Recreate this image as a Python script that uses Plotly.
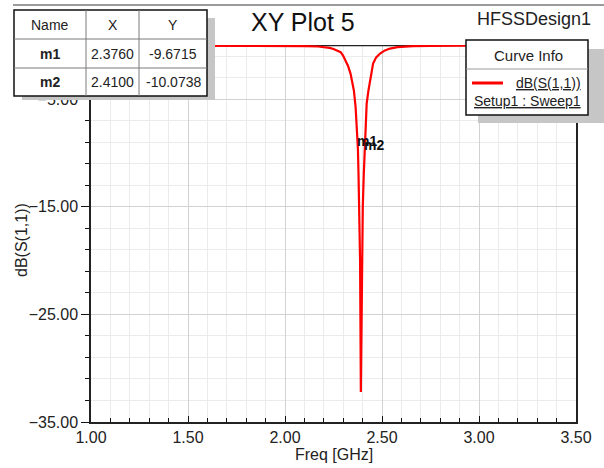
import plotly.graph_objects as go

# ---------------- data ----------------
freq_ghz = [1.00, 1.50, 1.90, 2.00, 2.10, 2.17, 2.20, 2.23, 2.25, 2.27,
            2.287, 2.300, 2.312, 2.325, 2.338, 2.347, 2.355, 2.364, 2.368, 2.372,
            2.376, 2.379, 2.383, 2.387, 2.391, 2.396, 2.401, 2.406, 2.410, 2.414,
            2.421, 2.430, 2.438, 2.446, 2.454, 2.470, 2.490, 2.515, 2.541, 2.580,
            2.620, 2.660, 2.750, 2.900, 3.200, 3.500]
s11_db = [0.00, 0.00, 0.00, -0.03, -0.05, -0.09, -0.14, -0.22, -0.32, -0.45,
          -0.62, -0.95, -1.39, -1.90, -2.63, -3.30, -4.18, -5.73, -6.80, -8.17,
          -9.67, -12.0, -16.0, -20.0, -32.2, -20.0, -15.0, -12.0, -10.07, -8.5,
          -5.4, -4.2, -3.25, -2.4, -1.67, -1.10, -0.74, -0.45, -0.28, -0.15,
          -0.10, -0.06, -0.04, 0.00, 0.00, 0.00]

marker_names = ["m1", "m2"]
marker_x = [2.3760, 2.4100]
marker_y = [-9.6715, -10.0738]
marker_x_text = ["2.3760", "2.4100"]
marker_y_text = ["-9.6715", "-10.0738"]
table_headers = ["Name", "X", "Y"]

x_tick_vals = [1.0, 1.5, 2.0, 2.5, 3.0, 3.5]
y_tick_vals = [-35, -25, -15, -5]

title_text = "XY Plot 5"
design_text = "HFSSDesign1"
x_title = "Freq [GHz]"
y_title = "dB(S(1,1))"
legend_title = "Curve Info"
legend_curve = "dB(S(1,1))"
legend_setup = "Setup1 : Sweep1"

# ---------------- geometry ----------------
W, H = 604, 468
L, R, T, B = 91, 28, 45, 46
PW = W - L - R
PH = H - T - B
FONT = "Liberation Sans, Arial, sans-serif"
Y_TOP = 0.05


def px(x):
    return (x - L) / PW


def py(y):
    return (H - B - y) / PH


fig = go.Figure()
fig.add_trace(go.Scatter(
    x=freq_ghz, y=s11_db, mode="lines",
    line=dict(color="#ff0000", width=2.2),
    showlegend=False, hoverinfo="skip",
))

shapes = []
annotations = []

# plot frame top edge (drawn beneath the curve)
shapes.append(dict(type="line", xref="x", yref="y",
                   x0=1.0, x1=3.5, y0=0, y1=0,
                   line=dict(color="#222", width=1.5), layer="between"))

# window top line
shapes.append(dict(type="line", xref="paper", yref="paper",
                   x0=px(13), x1=px(604), y0=py(5), y1=py(5),
                   line=dict(color="#9a9a9a", width=2), layer="above"))

# ---- marker table ----
tx0, tx1, ty0, ty1 = 14, 207, 10, 96
col_edges = [14, 86, 139, 207]
row_edges = [10, 39, 68, 96]
shapes.append(dict(type="rect", xref="paper", yref="paper",
                   x0=px(tx0 + 8), x1=px(tx1 + 8), y0=py(ty0 + 8), y1=py(ty1 + 4),
                   fillcolor="#c6c6c6", line=dict(width=0), layer="above"))
shapes.append(dict(type="rect", xref="paper", yref="paper",
                   x0=px(tx0), x1=px(tx1), y0=py(ty0), y1=py(ty1),
                   fillcolor="white", line=dict(color="#111", width=1.5), layer="above"))
for cx in col_edges[1:-1]:
    shapes.append(dict(type="line", xref="paper", yref="paper",
                       x0=px(cx), x1=px(cx), y0=py(ty0), y1=py(ty1),
                       line=dict(color="#7a7a7a", width=1), layer="above"))
for ry in row_edges[1:-1]:
    shapes.append(dict(type="line", xref="paper", yref="paper",
                       x0=px(tx0), x1=px(tx1), y0=py(ry), y1=py(ry),
                       line=dict(color="#7a7a7a", width=1), layer="above"))

rows = [table_headers] + [[n, xv, yv] for n, xv, yv in zip(marker_names, marker_x_text, marker_y_text)]
for ri, row in enumerate(rows):
    cy = (row_edges[ri] + row_edges[ri + 1]) / 2
    for ci, txt in enumerate(row):
        cx = (col_edges[ci] + col_edges[ci + 1]) / 2
        label = f"<b>{txt}</b>" if (ri > 0 and ci == 0) else txt
        annotations.append(dict(xref="paper", yref="paper", x=px(cx), y=py(cy),
                                text=label, showarrow=False, xanchor="center", yanchor="middle",
                                font=dict(family=FONT, size=14, color="#222")))

# ---- curve info box ----
lx0, lx1, ly0, ly1 = 466, 588, 40, 115
shapes.append(dict(type="rect", xref="paper", yref="paper",
                   x0=px(lx0 + 12), x1=px(lx1 + 16), y0=py(ly0 + 9), y1=py(ly1 + 8),
                   fillcolor="#c6c6c6", line=dict(width=0), layer="above"))
shapes.append(dict(type="rect", xref="paper", yref="paper",
                   x0=px(lx0), x1=px(lx1), y0=py(ly0), y1=py(ly1),
                   fillcolor="white", line=dict(color="#111", width=1.5), layer="above"))
shapes.append(dict(type="line", xref="paper", yref="paper",
                   x0=px(lx0), x1=px(lx1), y0=py(69), y1=py(69),
                   line=dict(color="#9a9a9a", width=1), layer="above"))
shapes.append(dict(type="line", xref="paper", yref="paper",
                   x0=px(472), x1=px(503), y0=py(83), y1=py(83),
                   line=dict(color="#ff0000", width=3), layer="above"))
annotations.append(dict(xref="paper", yref="paper", x=px(528), y=py(55),
                        text=legend_title, showarrow=False, xanchor="center", yanchor="middle",
                        font=dict(family=FONT, size=15, color="#222")))
annotations.append(dict(xref="paper", yref="paper", x=px(583), y=py(83),
                        text=legend_curve, showarrow=False, xanchor="right", yanchor="middle",
                        font=dict(family=FONT, size=14, color="#222", lineposition="under")))
annotations.append(dict(xref="paper", yref="paper", x=px(583), y=py(101),
                        text=legend_setup, showarrow=False, xanchor="right", yanchor="middle",
                        font=dict(family=FONT, size=14, color="#222", lineposition="under")))

# ---- titles ----
annotations.append(dict(xref="paper", yref="paper", x=px(303), y=py(22),
                        text=title_text, showarrow=False, xanchor="center", yanchor="middle",
                        font=dict(family=FONT, size=25, color="#111")))
annotations.append(dict(xref="paper", yref="paper", x=px(593), y=py(19),
                        text=design_text, showarrow=False, xanchor="right", yanchor="middle",
                        font=dict(family=FONT, size=18, color="#222")))
annotations.append(dict(xref="paper", yref="paper", x=px(334), y=py(455),
                        text=x_title, showarrow=False, xanchor="center", yanchor="middle",
                        font=dict(family=FONT, size=16, color="#222")))
annotations.append(dict(xref="paper", yref="paper", x=px(22), y=py(240),
                        text=y_title, showarrow=False, xanchor="center", yanchor="middle",
                        textangle=-90,
                        font=dict(family=FONT, size=16, color="#222")))

# ---- marker labels ----
for n, mx, my in zip(marker_names, marker_x, marker_y):
    annotations.append(dict(xref="x", yref="y", x=mx, y=my, text=f"<b>{n}</b>", showarrow=False,
                            xanchor="left", yanchor="middle", xshift=-3, yshift=9,
                            font=dict(family=FONT, size=14, color="#111")))

fig.update_layout(
    width=W, height=H,
    margin=dict(l=L, r=R, t=T, b=B, pad=0, autoexpand=False),
    paper_bgcolor="white", plot_bgcolor="white",
    font=dict(family=FONT, size=15, color="#222"),
    shapes=shapes, annotations=annotations,
    showlegend=False,
)
fig.update_xaxes(
    range=[1.0, 3.5], tickvals=x_tick_vals, tickformat=".2f",
    ticks="inside", ticklen=6, tickwidth=1.2, tickcolor="#111",
    showline=True, linecolor="#222", linewidth=1.5, mirror=False,
    showgrid=True, gridcolor="#d2d2d2", gridwidth=1, zeroline=False,
    layer="below traces",
    tickfont=dict(family=FONT, size=16, color="#222"),
    minor=dict(dtick=0.1, ticks="inside", ticklen=4, tickcolor="#111",
               showgrid=True, gridcolor="#ebebeb", gridwidth=1),
)
fig.update_yaxes(
    range=[-35, Y_TOP], tickvals=y_tick_vals, tickformat=".2f",
    ticks="outside", ticklen=8, tickwidth=1.2, tickcolor="#111",
    showline=True, linecolor="#222", linewidth=1.5, mirror=True,
    showgrid=True, gridcolor="#d2d2d2", gridwidth=1, zeroline=False,
    layer="below traces",
    tickfont=dict(family=FONT, size=16, color="#222"),
    minor=dict(dtick=2, tick0=-35, ticks="outside", ticklen=4, tickcolor="#111",
               showgrid=True, gridcolor="#ebebeb", gridwidth=1),
)

fig.write_html("out.html")
